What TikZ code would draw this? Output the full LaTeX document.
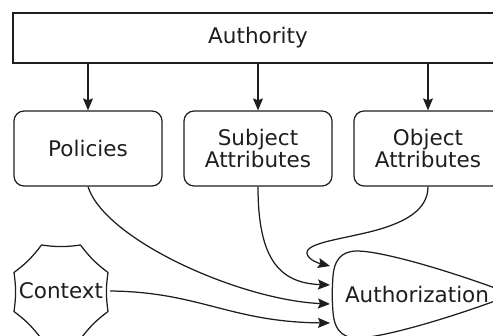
\documentclass[tikz,border=0pt]{standalone}
\usepackage{fontspec}
\setmainfont{DejaVu Sans}
\usetikzlibrary{arrows.meta}
\definecolor{ink}{HTML}{1E1E1E}
\begin{document}
\begin{tikzpicture}[x=1pt,y=-1pt,
  every node/.style={font=\fontsize{21.5}{22}\selectfont, text=ink},
  outline/.style={draw=ink, line width=1.25pt},
  squarebox/.style={outline, minimum width=490, minimum height=50, inner sep=0pt},
  roundbox/.style={outline, rounded corners=10pt, minimum width=148, minimum height=75,
    inner sep=0pt, align=center},
  concave/.style={bend right=8},
  link/.style={draw=ink, line width=1.25pt, -{Stealth[length=12pt,width=10pt,inset=2pt]}}]

\useasboundingbox (0,0) rectangle (493,336);
\clip (0,0) rectangle (493,336);

% source boxes
\node[squarebox] (authority) at (258,38) {Authority};
\node[roundbox] (policies) at (88,148.5) {Policies};
\node[roundbox] (subject) at (258,148.5) {Subject\\Attributes};
\node[roundbox] (object) at (428,148.5) {Object\\Attributes};

% context: octagon with slightly concave sides
\node[minimum width=98, inner sep=0pt] (ctx) at (61,291) {Context};
\draw[outline] (41.5,245) to[concave] (80.5,245) to[concave] (108,272.5)
  to[concave] (108,311.5) to[concave] (80.5,339) to[concave] (41.5,339)
  to[concave] (14,311.5) to[concave] (14,272.5) to[concave] (41.5,245) -- cycle;

% authorization: rounded wedge pointing right
\draw[outline] (357,251)
  .. controls (380,251) and (440,268) .. (495,288)
  .. controls (505,292) and (505,297) .. (495,301)
  .. controls (440,321) and (380,338) .. (357,338)
  .. controls (340,338) and (334,327) .. (333,312)
  .. controls (332,300) and (332,290) .. (333,276)
  .. controls (334,262) and (340,251) .. (357,251) -- cycle;
\node (authz) at (417,294) {Authorization};

% arrow ends at the authorization shape
\coordinate (inO) at (330,266);
\coordinate (inS) at (330,285);
\coordinate (inP) at (330,304);
\coordinate (inC) at (330,323);

% authority feeds the three sources
\draw[link] (authority.south -| policies.north) -- (policies.north);
\draw[link] (authority.south -| subject.north) -- (subject.north);
\draw[link] (authority.south -| object.north) -- (object.north);

% inputs to authorization
\draw[link] (policies.south) .. controls (105,240) and (240,300) .. (inP);
\draw[link] (subject.south) .. controls (258,260) and (280,283) .. (inS);
\draw[link] (object.south) .. controls (428,210) and (405,222) .. (377,230)
  .. controls (340,240) and (300,243) .. (308,256)
  .. controls (312,262) and (322,264) .. (inO);
\draw[link] (ctx.east) .. controls (200,292) and (230,322) .. (inC);
\end{tikzpicture}
\end{document}
